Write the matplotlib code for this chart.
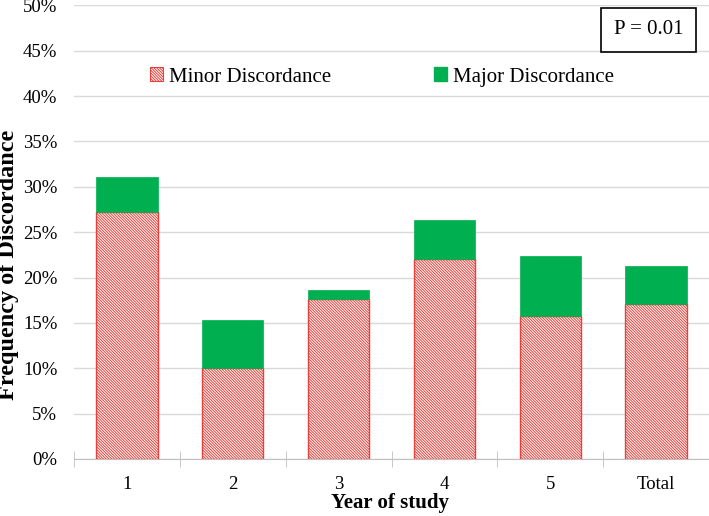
import matplotlib.pyplot as plt
import matplotlib as mpl
import numpy as np
from matplotlib.patches import Patch

plt.rcParams['font.family'] = ['Liberation Serif', 'DejaVu Serif']
mpl.rcParams['hatch.color'] = '#E8403A'
mpl.rcParams['hatch.linewidth'] = 0.7

years = ['1', '2', '3', '4', '5', 'Total']
minor = [27.2, 10.0, 17.6, 22.0, 15.8, 17.1]
major = [3.9, 5.3, 1.0, 4.4, 6.6, 4.2]

HATCH = '\\' * 12

fig = plt.figure(figsize=(7.09, 5.16), dpi=100)
ax = fig.add_axes([0.1044, 0.1105, 0.8956, 0.879])

x = np.arange(len(years))
ax.bar(x, minor, width=0.58, color='white', edgecolor='#E8403A',
       hatch=HATCH, linewidth=1.0, zorder=3)
ax.bar(x, major, width=0.58, bottom=minor, color='#00B050',
       edgecolor='#00B050', linewidth=0.5, zorder=3)

ax.set_xlim(-0.5, len(years) - 0.5)
ax.set_ylim(0, 50)
ax.set_yticks(np.arange(0, 51, 5))
ax.set_yticklabels(['{}%'.format(v) for v in range(0, 51, 5)], fontsize=13.5)
ax.set_xticks(x)
ax.set_xticklabels(years, fontsize=13.5)
ax.set_xticks(np.arange(-0.5, len(years), 1), minor=True)
ax.tick_params(axis='x', which='major', length=0, pad=12)
ax.tick_params(axis='x', which='minor', length=12, color='#BFBFBF', direction='inout')
ax.tick_params(axis='y', length=0, pad=12)
ax.grid(axis='y', color='#D9D9D9', linewidth=1.0, zorder=0)
for s in ['top', 'right', 'left']:
    ax.spines[s].set_visible(False)
ax.spines['bottom'].set_color('#BFBFBF')
ax.spines['bottom'].set_zorder(4)

# axis titles placed by hand, the reference keeps them tight to the edges
fig.text(390 / 709, (516 - 508) / 516, 'Year of study', fontsize=15,
         fontweight='bold', ha='center', va='baseline')
fig.text(9 / 709, (516 - 265) / 516, 'Frequency of Discordance', fontsize=17.5,
         fontweight='bold', rotation=90, ha='center', va='center')

handles = [Patch(facecolor='white', edgecolor='#E8403A', hatch=HATCH, linewidth=0.8),
           Patch(facecolor='#00B050', edgecolor='#00B050')]
ax.legend(handles, ['Minor Discordance', 'Major Discordance'], loc='upper center',
          bbox_to_anchor=(0.485, 0.905), ncol=2, frameon=False, fontsize=15,
          handlelength=0.65, handleheight=0.65, handletextpad=0.3, columnspacing=4.9)

ax.text(0.905, 0.946, 'P = 0.01', transform=ax.transAxes, fontsize=15,
        ha='center', va='center',
        bbox=dict(boxstyle='square,pad=0.6', facecolor='white', edgecolor='black', linewidth=1.2))

fig.savefig('out.png', dpi=100)
